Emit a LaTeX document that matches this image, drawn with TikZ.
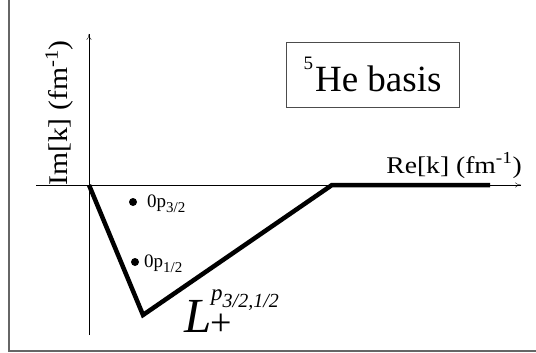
\documentclass[tikz,border=0pt]{standalone}
\usepackage{fontspec}
\setmainfont{Liberation Serif}
\usetikzlibrary{arrows.meta}

\begin{document}
\begin{tikzpicture}[
  x=1pt,y=-1pt,
  >={To[length=6pt,width=5pt]},
  axe/.style={thin,->},
  contour/.style={line width=4.5pt,line join=miter},
  cadre/.style={line width=1.2pt,draw=black!60},
  pole/.style={circle,fill,inner sep=0pt,minimum size=8pt},
  etiq/.style={font=\fontsize{19}{19}\selectfont,anchor=base west,inner sep=0pt},
  axlab/.style={inner sep=0pt},
  grand/.style={anchor=base west,inner sep=0pt},
]
  \useasboundingbox (0,0) rectangle (536,353);
  % Coordonnees
  \coordinate (O)    at (89,185);
  \coordinate (xmin) at (36,185);
  \coordinate (xmax) at (521,185);
  \coordinate (ymin) at (89,335);
  \coordinate (ymax) at (89,34);
  \coordinate (A)    at (143,315); % fond du contour
  \coordinate (B)    at (332,185); % retour sur l'axe reel
  \coordinate (C)    at (490,185); % fin du contour

  % Cadre
  \draw[cadre] (9,0) -- (9,351) -- (536,351);

  % Axes
  \draw[axe] (xmin) -- (xmax);
  \draw[axe] (ymin) -- (ymax);
  \node[axlab,anchor=base east,font=\fontsize{24}{24}\selectfont] (re) at (522,173)
    {\scalebox{1.15}[1]{Re[k] (fm\textsuperscript{-1})}};
  \node[axlab,anchor=base west,rotate=90,font=\fontsize{27}{27}\selectfont] (im) at (67,186)
    {\scalebox{1.1}[1]{Im[k] (fm\textsuperscript{-1})}};

  % Contour
  \draw[contour] (O) -- (A) -- (B) -- (C);
  \node[grand,font=\fontsize{49}{49}\selectfont\itshape] (L) at (184,332) {L};
  \node[grand,font=\fontsize{38}{38}\selectfont] (plus) at (210,335) {+};
  \node[grand,font=\fontsize{23}{23}\selectfont\itshape] (sup) at (211,300)
    {p\raisebox{-7pt}{\fontsize{20}{20}\selectfont 3/2,1/2}};

  % Poles
  \node[pole] (p3) at (133,202) {};
  \node[pole] (p1) at (135,262) {};
  \node[etiq] (l3) at (147,207) {0p\raisebox{-5pt}{\fontsize{15}{15}\selectfont 3/2}};
  \node[etiq] (l1) at (144,267) {0p\raisebox{-5pt}{\fontsize{15}{15}\selectfont 1/2}};

  % Base
  \node[draw=black!70,thin,minimum width=173pt,minimum height=65pt,
        font=\fontsize{37}{37}\selectfont] (base) at (372.5,74.5)
    {\raisebox{22pt}{\fontsize{19}{19}\selectfont 5}\kern2pt He basis};
\end{tikzpicture}
\end{document}
